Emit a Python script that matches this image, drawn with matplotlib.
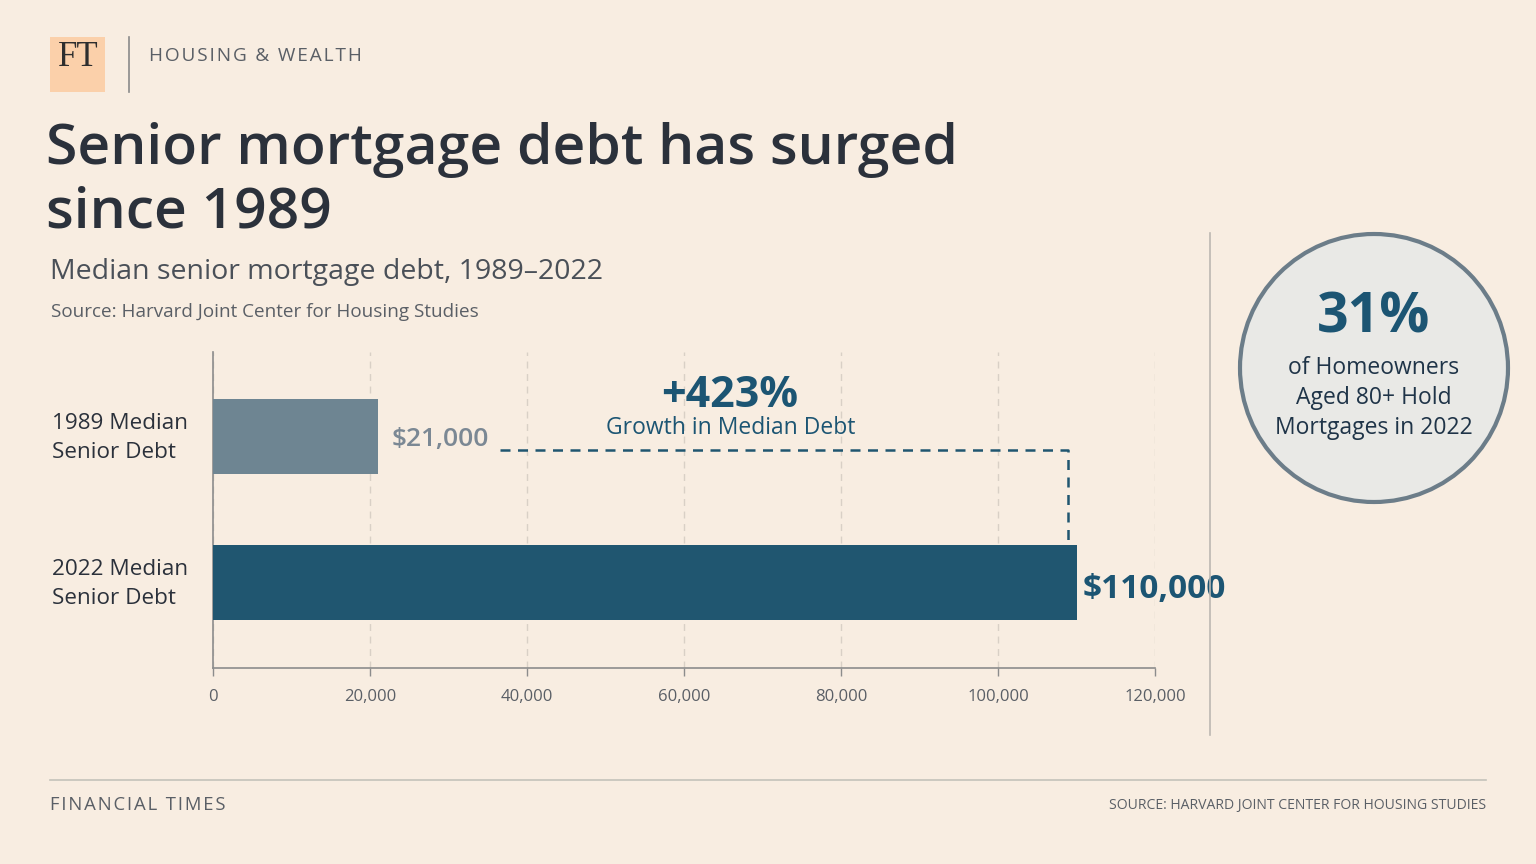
import matplotlib
matplotlib.use("Agg")
import matplotlib.pyplot as plt
from matplotlib.patches import Rectangle, Ellipse
from matplotlib.lines import Line2D

# ---- data ----
categories = ["1989 Median\nSenior Debt", "2022 Median\nSenior Debt"]
values = [21000, 110000]
value_labels = ["$21,000", "$110,000"]
x_ticks = [0, 20000, 40000, 60000, 80000, 100000, 120000]
growth_label = "+423%"
share_80_plus = "31%"

BG = "#F8EDE1"
DARK = "#2B313B"
BLUE = "#1C5573"
GREY_BAR = "#6E8592"
BAR_22 = "#205670"
GREY_TXT = "#5A5F66"

FONT = ["Open Sans", "DejaVu Sans"]
plt.rcParams["font.family"] = FONT


def spaced(s, gap="\u200a"):
    # fake letter spacing with hair spaces
    return gap.join(list(s))


fig = plt.figure(figsize=(15.36, 8.64), dpi=100, facecolor=BG)
W, H = 1536, 864


def fx(px):
    return px / W


def fy(py):
    return 1 - py / H


# ---- header ----
fig.patches.append(Rectangle((fx(50), fy(92)), fx(55), 55 / H, transform=fig.transFigure,
                             facecolor="#FBD0AA", edgecolor="none"))
fig.text(fx(78), fy(57), "FT", family=["Liberation Serif", "DejaVu Serif"], fontsize=25,
         color="#2E2E2E", ha="center", va="center")
fig.lines.append(Line2D([fx(129), fx(129)], [fy(37), fy(92)], transform=fig.transFigure,
                        color="#8A8A8A", lw=1.2))
fig.text(fx(149), fy(56), spaced("HOUSING & WEALTH"), fontsize=13.7, color=GREY_TXT,
         ha="left", va="center")

fig.text(fx(46), fy(228), "Senior mortgage debt has surged\nsince 1989", fontsize=41,
         fontweight="semibold", color=DARK, ha="left", va="baseline", linespacing=1.2)
fig.text(fx(50), fy(272), "Median senior mortgage debt, 1989\u20132022", fontsize=20.5,
         color="#4A5058", ha="left", va="center")
fig.text(fx(51), fy(312), "Source: Harvard Joint Center for Housing Studies", fontsize=13.6,
         color=GREY_TXT, ha="left", va="center")

# ---- bar chart ----
ax = fig.add_axes([fx(213), fy(668), 942 / W, (668 - 352) / H])
ax.set_facecolor("none")
ypos = [0, 1]
ax.barh(ypos, values, height=0.514, color=[GREY_BAR, BAR_22], zorder=3)
ax.set_xlim(0, 120000)
ax.set_ylim(1.586, -0.579)
ax.set_xticks(x_ticks)
ax.set_xticklabels([f"{t:,}" for t in x_ticks], fontsize=12, color=GREY_TXT)
ax.set_yticks([])
ax.tick_params(axis="x", length=6, width=1, color="#8C8C8C", pad=9)
ax.xaxis.grid(True, linestyle=(0, (5, 4)), color="#D9D0C6", lw=1, zorder=0)
for s in ["top", "right"]:
    ax.spines[s].set_visible(False)
for s in ["left", "bottom"]:
    ax.spines[s].set_color("#8C8C8C")
    ax.spines[s].set_linewidth(1.2)

for y, cat in zip(ypos, categories):
    ax.text(-0.171, y + 0.01, cat, transform=ax.get_yaxis_transform(), fontsize=16.2,
            color=DARK, ha="left", va="center", linespacing=1.45)

ax.text(values[0] + 1700, ypos[0] + 0.02, value_labels[0], fontsize=19, fontweight="semibold",
        color="#7B8894", ha="left", va="center")
ax.text(values[1] + 800, ypos[1] + 0.05, value_labels[1], fontsize=24, fontweight="bold",
        color=BLUE, ha="left", va="center")

# growth bracket
x_start = 36500
x_end = values[1] - 1100
y_br = 0.092
ax.plot([x_start, x_end, x_end], [y_br, y_br, 0.709], color=BAR_22, lw=1.8,
        linestyle=(0, (4, 3)), zorder=4, clip_on=False)
ax.text(65800, -0.28, growth_label, fontsize=31, fontweight="bold", color=BLUE,
        ha="center", va="center")
ax.text(66000, -0.055, "Growth in Median Debt", fontsize=16.5, color=BLUE,
        ha="center", va="center")

# ---- right panel ----
fig.lines.append(Line2D([fx(1210), fx(1210)], [fy(233), fy(735)], transform=fig.transFigure,
                        color="#BDB8B2", lw=1.2))
circ_ax = fig.add_axes([fx(1234), fy(508), 280 / W, 280 / H])
circ_ax.set_xlim(0, 280)
circ_ax.set_ylim(280, 0)
circ_ax.axis("off")
circ_ax.add_patch(Ellipse((140, 140), 268, 268, facecolor="#E9E9E6", edgecolor="#6C7D89", lw=3))
circ_ax.text(140, 90, share_80_plus, fontsize=40, fontweight="bold", color=BLUE,
             ha="center", va="center")
circ_ax.text(140, 170, "of Homeowners\nAged 80+ Hold\nMortgages in 2022", fontsize=16.5,
             color="#1F3448", ha="center", va="center", linespacing=1.35)

# ---- footer ----
fig.lines.append(Line2D([fx(50), fx(1486)], [fy(780), fy(780)], transform=fig.transFigure,
                        color="#C4C2BA", lw=1.2))
fig.text(fx(50), fy(805), spaced("FINANCIAL TIMES"), fontsize=13.3, color=GREY_TXT,
         ha="left", va="center")
fig.text(fx(1486), fy(805), "SOURCE: HARVARD JOINT CENTER FOR HOUSING STUDIES", fontsize=10.1,
         color=GREY_TXT, ha="right", va="center")

fig.savefig("out.png", dpi=100, facecolor=BG)
